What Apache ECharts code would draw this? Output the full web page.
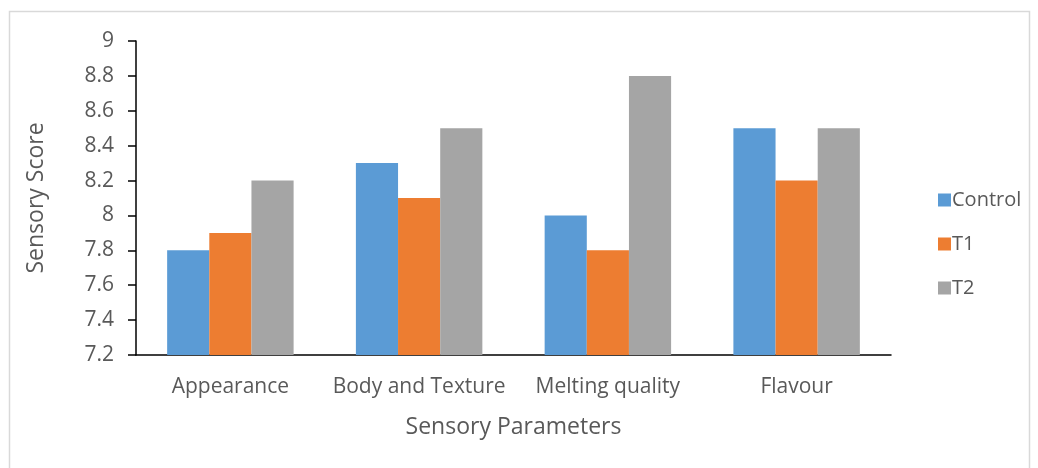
<!DOCTYPE html>
<html>
<head>
<meta charset="utf-8">
<script src="https://cdn.jsdelivr.net/npm/echarts@6/dist/echarts.min.js"></script>
<style>
  html, body { margin: 0; padding: 0; background: #fff; }
  #chart { width: 1038px; height: 468px; }
</style>
</head>
<body>
<div id="chart"></div>
<script>
// Sensory evaluation scores per parameter
const categories = ['Appearance', 'Body and Texture', 'Melting quality', 'Flavour'];
const controlScores = [7.8, 8.3, 8.0, 8.5];
const t1Scores = [7.9, 8.1, 7.8, 8.2];
const t2Scores = [8.2, 8.5, 8.8, 8.5];
const yMin = 7.2, yMax = 9, yStep = 0.2;

const chart = echarts.init(document.getElementById('chart'));
const fontFamily = 'Open Sans, Liberation Sans, sans-serif';
const textColor = '#595959';

chart.setOption({
  animation: false,
  graphic: [{
    type: 'rect',
    shape: { x: 9.5, y: 11.5, width: 1020, height: 480 },
    style: { fill: 'none', stroke: '#d9d9d9', lineWidth: 1.5 },
    silent: true
  }],
  grid: { left: 136, right: 147, top: 41, bottom: 113 },
  legend: {
    orient: 'vertical',
    left: 933,
    top: 185,
    icon: 'rect',
    itemWidth: 13,
    itemHeight: 13,
    itemGap: 24,
    textStyle: { color: textColor, fontSize: 20, fontFamily: fontFamily, padding: [0, 0, 0, -4] },
    data: ['Control', 'T1', 'T2']
  },
  xAxis: {
    type: 'category',
    data: categories,
    name: 'Sensory Parameters',
    nameLocation: 'middle',
    nameGap: 61,
    nameTextStyle: { color: textColor, fontSize: 23, fontFamily: fontFamily },
    axisLine: { lineStyle: { color: '#000', width: 1.5 } },
    axisTick: { show: false },
    axisLabel: { interval: 0, color: textColor, fontSize: 21, fontFamily: fontFamily, margin: 22 }
  },
  yAxis: {
    type: 'value',
    min: yMin,
    max: yMax,
    interval: yStep,
    name: 'Sensory Score',
    nameLocation: 'middle',
    nameGap: 88,
    nameTextStyle: { color: textColor, fontSize: 23, fontFamily: fontFamily },
    axisLine: { show: true, lineStyle: { color: '#000', width: 1.5 } },
    axisTick: { show: true, length: 8, lineStyle: { color: '#000', width: 1.5 } },
    splitLine: { show: false },
    axisLabel: {
      color: textColor, fontSize: 21, fontFamily: fontFamily, margin: 22,
      formatter: v => String(Math.round(v * 10) / 10)
    }
  },
  series: [
    { name: 'Control', type: 'bar', data: controlScores, itemStyle: { color: '#5B9BD5' }, barGap: '0%', barCategoryGap: '33%' },
    { name: 'T1', type: 'bar', data: t1Scores, itemStyle: { color: '#ED7D31' }, barGap: '0%', barCategoryGap: '33%' },
    { name: 'T2', type: 'bar', data: t2Scores, itemStyle: { color: '#A5A5A5' }, barGap: '0%', barCategoryGap: '33%' }
  ]
});
</script>
</body>
</html>
